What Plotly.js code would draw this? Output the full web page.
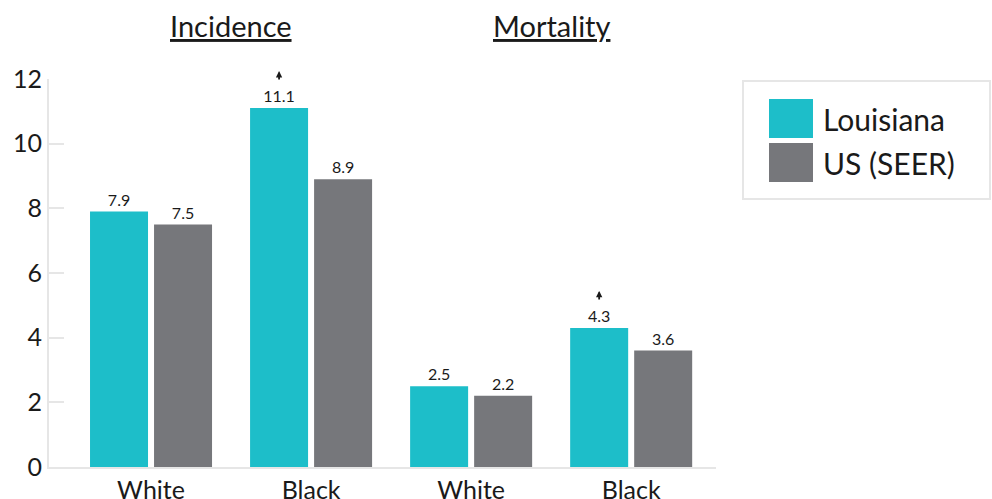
<!DOCTYPE html>
<html>
<head>
<meta charset="utf-8">
<script src="https://cdn.plot.ly/plotly-3.0.1.min.js"></script>
<style>
  html, body { margin: 0; padding: 0; background: #fff; }
  #chart { width: 992px; height: 499px; }
</style>
</head>
<body>
<div id="chart"></div>
<script>
// Rates per 100,000 by race, incidence and mortality
const groupLabels = ['White', 'Black', 'White', 'Black'];
const sectionTitles = ['Incidence', 'Mortality'];
const louisiana = [7.9, 11.1, 2.5, 4.3];
const usSeer = [7.5, 8.9, 2.2, 3.6];
// groups where Louisiana is flagged as significantly higher
const flaggedHigher = [false, true, false, true];
const seriesNames = ['Louisiana', 'US (SEER)'];
const yTicks = [0, 2, 4, 6, 8, 10, 12];

const TEAL = '#1dbec9';
const GRAY = '#76777b';
const FONT = 'Lato, "Open Sans", sans-serif';
const TEXT = '#1a1a1a';
const AXIS = '#e6e6e6';

const xPos = groupLabels.map((_, i) => i);

const traces = [
  {
    type: 'bar', name: seriesNames[0], x: xPos, y: louisiana,
    marker: { color: TEAL },
    text: louisiana.map(v => v.toFixed(1)), textposition: 'outside',
    textfont: { family: FONT, size: 16, color: TEXT },
    cliponaxis: false, hoverinfo: 'skip'
  },
  {
    type: 'bar', name: seriesNames[1], x: xPos, y: usSeer,
    marker: { color: GRAY },
    text: usSeer.map(v => v.toFixed(1)), textposition: 'outside',
    textfont: { family: FONT, size: 16, color: TEXT },
    cliponaxis: false, hoverinfo: 'skip'
  }
];

const annotations = [];

// section headings over each pair of groups
sectionTitles.forEach((t, k) => {
  annotations.push({
    x: 2 * k + 0.5, xref: 'x', y: 1.137, yref: 'paper',
    text: '<u>' + t + '</u>', showarrow: false,
    xanchor: 'center', yanchor: 'middle',
    font: { family: FONT, size: 29, color: TEXT }
  });
});

// small up arrows above flagged Louisiana bars
flaggedHigher.forEach((f, i) => {
  if (!f) return;
  annotations.push({
    x: i - 0.2, xref: 'x', y: louisiana[i], yref: 'y',
    yshift: 37, text: '', showarrow: true,
    ax: 0, ay: 10, arrowhead: 2, arrowsize: 0.7, arrowwidth: 1.8,
    arrowcolor: TEXT, standoff: 0, startstandoff: 0
  });
});

// legend drawn as a boxed key
const px = p => (p - 49) / 667;
const py = p => (467 - p) / 388;
const shapes = [
  { type: 'rect', xref: 'paper', yref: 'paper', x0: px(743), x1: px(990), y0: py(199), y1: py(81),
    line: { color: AXIS, width: 2 }, fillcolor: 'rgba(0,0,0,0)' },
  { type: 'rect', xref: 'paper', yref: 'paper', x0: px(769), x1: px(813), y0: py(138), y1: py(99),
    line: { width: 0 }, fillcolor: TEAL },
  { type: 'rect', xref: 'paper', yref: 'paper', x0: px(769), x1: px(813), y0: py(182), y1: py(143),
    line: { width: 0 }, fillcolor: GRAY }
];
[[seriesNames[0], 119], [seriesNames[1], 163]].forEach(([name, yc]) => {
  annotations.push({
    xref: 'paper', yref: 'paper', x: px(821), y: py(yc),
    text: name, showarrow: false, xanchor: 'left', yanchor: 'middle',
    font: { family: FONT, size: 30, color: TEXT }
  });
});

const layout = {
  width: 992, height: 499,
  margin: { l: 49, r: 276, t: 79, b: 32, pad: 0 },
  paper_bgcolor: '#fff', plot_bgcolor: '#fff',
  showlegend: false,
  barmode: 'group', bargap: 0.2, bargroupgap: 0.094,
  font: { family: FONT, color: TEXT },
  xaxis: {
    range: [-0.6375, 3.53], tickmode: 'array', tickvals: xPos, ticktext: groupLabels,
    showline: true, linecolor: AXIS, linewidth: 2, showgrid: false, zeroline: false,
    ticks: '', tickfont: { family: FONT, size: 25, color: TEXT }, fixedrange: true
  },
  yaxis: {
    range: [0, 12], tickmode: 'array', tickvals: yTicks,
    showline: true, linecolor: AXIS, linewidth: 2, showgrid: false, zeroline: false,
    ticks: 'inside', ticklen: 15, tickwidth: 2, tickcolor: AXIS,
    tickfont: { family: FONT, size: 25, color: TEXT }, fixedrange: true
  },
  annotations: annotations,
  shapes: shapes
};

Plotly.newPlot('chart', traces, layout, { staticPlot: true });
</script>
</body>
</html>
